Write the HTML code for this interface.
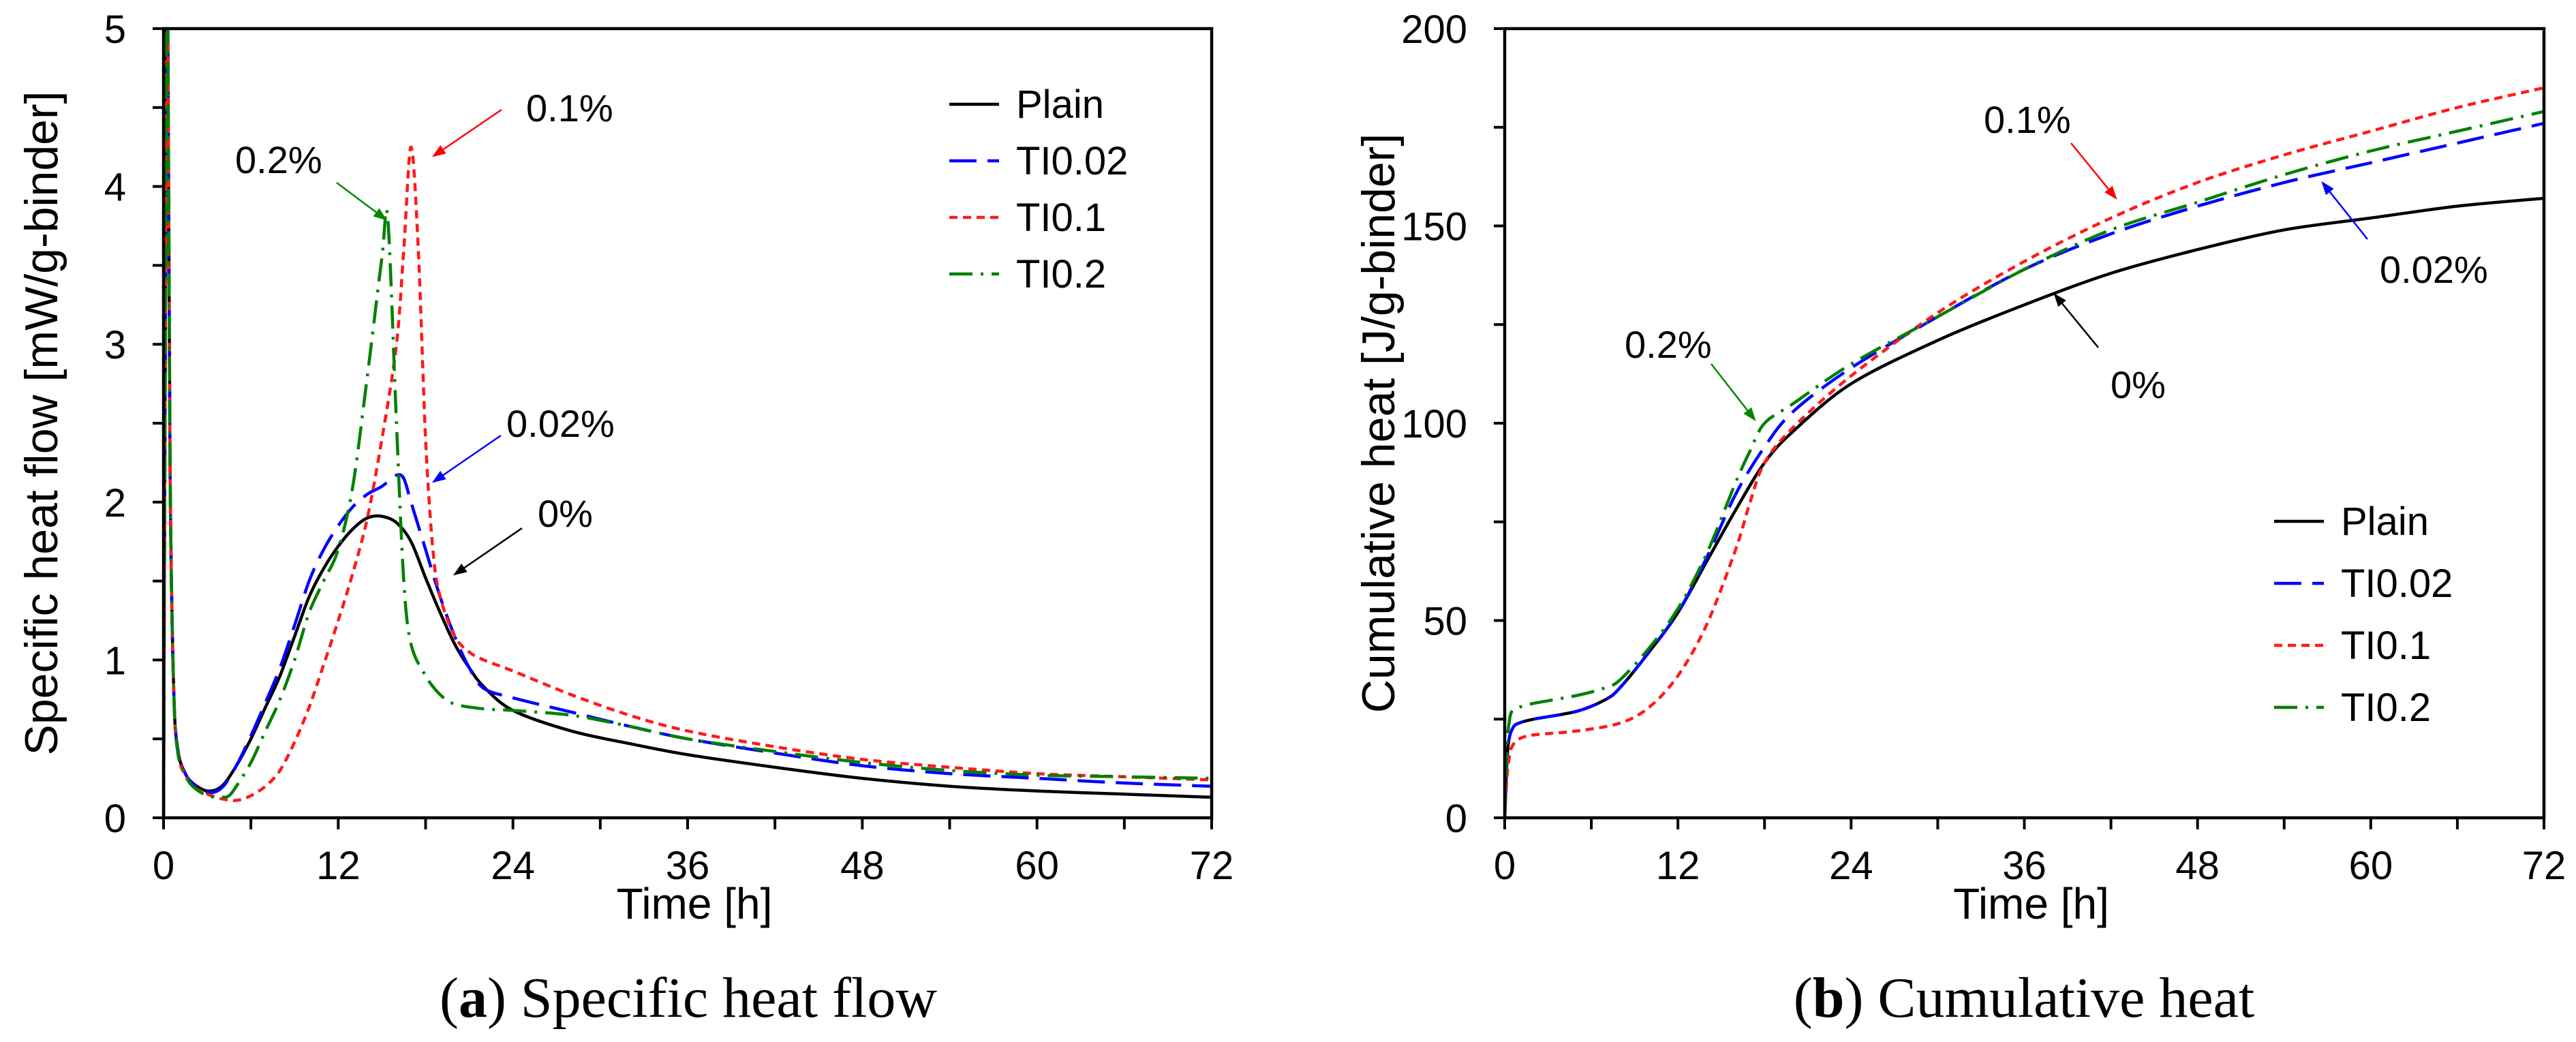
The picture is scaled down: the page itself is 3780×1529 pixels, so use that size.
<!DOCTYPE html>
<html><head><meta charset="utf-8"><style>
html,body{margin:0;padding:0;background:#fff;}
svg{display:block;}
text{font-family:"Liberation Sans",sans-serif;}
.cap{font-family:"Liberation Serif",serif;font-size:84px;}
</style></head><body>
<svg id="fig" width="3780" height="1529" viewBox="0 0 3780 1529" xmlns="http://www.w3.org/2000/svg">
<defs>
<clipPath id="clipA"><rect x="240" y="42" width="1538" height="1158"/></clipPath>
<clipPath id="clipB"><rect x="2208" y="42" width="1525" height="1158"/></clipPath>
<marker id="arrK" markerWidth="8" markerHeight="8" refX="7" refY="4" orient="auto" markerUnits="strokeWidth"><path d="M0,1 L8,4 L0,7 Z" fill="#000"/></marker>
<marker id="arrR" markerWidth="8" markerHeight="8" refX="7" refY="4" orient="auto" markerUnits="strokeWidth"><path d="M0,1 L8,4 L0,7 Z" fill="#f00"/></marker>
<marker id="arrB" markerWidth="8" markerHeight="8" refX="7" refY="4" orient="auto" markerUnits="strokeWidth"><path d="M0,1 L8,4 L0,7 Z" fill="#00f"/></marker>
<marker id="arrG" markerWidth="8" markerHeight="8" refX="7" refY="4" orient="auto" markerUnits="strokeWidth"><path d="M0,1 L8,4 L0,7 Z" fill="#080"/></marker>
</defs>
<g id="chartA"></g>
<g id="chartB"></g>

<text class="cap" x="1010" y="1492" text-anchor="middle">(<tspan font-weight="bold">a</tspan>) Specific heat flow</text>
<text class="cap" x="2970" y="1492" text-anchor="middle">(<tspan font-weight="bold">b</tspan>) Cumulative heat</text>
</svg>
<script>
// ---- Chart A data (Specific heat flow) ----
const plainT = [0,0.12,0.25,0.45,0.7,1,1.5,2,3,4,5,6,7,8,9,10,11,12,13,14,15,16,17,18,19,20,21,22,24,28,32,36,42,48,54,60,66,72];
const plainV = [0,3,5.6,2.2,0.8,0.42,0.28,0.22,0.17,0.2,0.33,0.5,0.7,0.9,1.15,1.4,1.58,1.72,1.83,1.9,1.91,1.87,1.75,1.52,1.3,1.1,0.95,0.83,0.68,0.55,0.47,0.4,0.32,0.25,0.2,0.17,0.15,0.13];
const ti002T = [0,0.12,0.25,0.45,0.7,1,1.5,2,3,4,5,6,7,8,9,10,11,12,13,14,15,16,16.5,17,18,19,20,21,22,24,28,32,36,42,48,54,60,66,72];
const ti002V = [0,3,5.6,2.2,0.8,0.42,0.28,0.22,0.16,0.19,0.33,0.52,0.73,0.95,1.22,1.5,1.7,1.85,1.97,2.05,2.1,2.17,2.15,2.0,1.7,1.4,1.15,0.95,0.82,0.76,0.67,0.58,0.5,0.41,0.33,0.28,0.25,0.22,0.2];
const ti01T = [0,0.12,0.25,0.45,0.7,1,1.5,2,3,4,5,6,7,8,9,10,11,12,13,14,15,16,16.5,17,17.5,18,18.5,19,20,21,22,24,28,32,36,42,48,54,60,66,72];
const ti01V = [0,3,5.6,2.2,0.8,0.4,0.27,0.2,0.15,0.12,0.11,0.14,0.2,0.3,0.48,0.7,0.97,1.25,1.55,1.9,2.4,3.0,3.6,4.25,3.6,2.4,1.7,1.4,1.15,1.05,1.0,0.93,0.78,0.65,0.55,0.45,0.37,0.32,0.28,0.26,0.24];
const ti02T = [0,0.12,0.25,0.45,0.7,1,1.5,2,3,4,4.5,5,6,7,8,9,10,11,12,13,14,15,15.4,16,16.5,17,18,19,20,22,24,28,32,36,42,48,54,60,66,72];
const ti02V = [0,3,5.6,2.2,0.8,0.4,0.27,0.2,0.14,0.13,0.14,0.2,0.35,0.55,0.75,1.0,1.3,1.5,1.7,2.1,2.8,3.55,3.8,2.5,1.5,1.1,0.9,0.78,0.72,0.69,0.68,0.65,0.58,0.5,0.42,0.35,0.3,0.27,0.26,0.25];
const xTicksA = [0,12,24,36,48,60,72];
const yTicksA = [0,1,2,3,4,5];

// ---- Chart B data (Cumulative heat) ----
const cPlainT = [0,0.15,0.3,0.6,1,2,5,7,8,10,12,14,16,18,20,24,30,36,42,48,54,60,66,72];
const cPlainV = [0,14,20,23,24,25,27,30,33,42,52,65,78,90,98,110,121,130,138,144,149,152,155,157];
const c002T = [0,0.15,0.3,0.6,1,2,5,7,8,10,12,14,16,18,20,24,30,36,42,48,54,60,66,72];
const c002V = [0,14,20,23,24,25,27,30,33,42,52,66,82,94,103,114,127,139,148,155,161,166,171,176];
const c01T = [0,0.15,0.3,0.5,1,2,5,8,10,12,14,16,17,18,20,24,30,36,42,48,54,60,66,72];
const c01V = [0,10,15,18,20,21,22,24,28,36,49,68,80,90,99,112,128,141,152,161,168,174,180,185];
const c02T = [0,0.15,0.3,0.5,1,2,5,7,8,10,12,14,16,17,18,20,24,30,36,42,48,54,60,66,72];
const c02V = [0,18,24,27,28,29,31,33,35,43,53,67,85,93,100,105,115,127,139,149,156,163,169,174,179];
const xTicksB = [0,12,24,36,48,60,72];
const yTicksB = [0,50,100,150,200];

const NS = "http://www.w3.org/2000/svg";
function mk(tag, attrs, parent){const e=document.createElementNS(NS,tag);for(const k in attrs)e.setAttribute(k,attrs[k]);parent.appendChild(e);return e;}

function smoothPath(pts){
  let d = "M"+pts[0][0].toFixed(1)+","+pts[0][1].toFixed(1);
  for(let i=0;i<pts.length-1;i++){
    const p0=pts[Math.max(0,i-1)],p1=pts[i],p2=pts[i+1],p3=pts[Math.min(pts.length-1,i+2)];
    const t=0.16;
    const c1=[p1[0]+(p2[0]-p0[0])*t,p1[1]+(p2[1]-p0[1])*t];
    const c2=[p2[0]-(p3[0]-p1[0])*t,p2[1]-(p3[1]-p1[1])*t];
    d+=" C"+c1[0].toFixed(1)+","+c1[1].toFixed(1)+" "+c2[0].toFixed(1)+","+c2[1].toFixed(1)+" "+p2[0].toFixed(1)+","+p2[1].toFixed(1);
  }
  return d;
}

function drawChart(cfg){
  const g=document.getElementById(cfg.id);
  const X=v=>cfg.x0+(v-cfg.xmin)/(cfg.xmax-cfg.xmin)*(cfg.x1-cfg.x0);
  const Y=v=>cfg.y0-(v-cfg.ymin)/(cfg.ymax-cfg.ymin)*(cfg.y0-cfg.y1);
  const sg=mk("g",{"clip-path":"url(#"+cfg.clip+")"},g);
  
  
  cfg.series.forEach(s=>{
    const pts=s.t.map((t,i)=>[X(t),Y(s.v[i])]);
    const p=mk("path",{d:smoothPath(pts),fill:"none",stroke:s.color,"stroke-width":4.5,"stroke-dasharray":s.dash,"stroke-linejoin":"round"},sg);
    
    
  });
  const fr=mk("rect",{x:cfg.x0,y:cfg.y1,width:cfg.x1-cfg.x0,height:cfg.y0-cfg.y1,fill:"none",stroke:"#000","stroke-width":4.5},g);
  
  
  for(let v=cfg.xmin;v<=cfg.xmax;v+=6){
    const tk=mk("line",{x1:X(v),x2:X(v),y1:cfg.y0,y2:cfg.y0+17,stroke:"#000","stroke-width":4},g);
    
    
  }
  cfg.xticks.forEach(v=>{
    const t=mk("text",{x:X(v),y:cfg.y0+90,"text-anchor":"middle","font-size":58},g);
    t.textContent=v;
    
    
  });
  const step=cfg.yticks[1]-cfg.yticks[0];
  for(let v=cfg.ymin;v<=cfg.ymax+1e-9;v+=step/2){
    const tk=mk("line",{x1:cfg.x0-16,x2:cfg.x0,y1:Y(v),y2:Y(v),stroke:"#000","stroke-width":4},g);
    
    
  }
  cfg.yticks.forEach(v=>{
    const t=mk("text",{x:cfg.x0-55,y:Y(v)+21,"text-anchor":"end","font-size":58},g);
    t.textContent=v;
    
    
  });
  const xt=mk("text",{x:(cfg.x0+cfg.x1)/2+10,y:cfg.y0+148,"text-anchor":"middle","font-size":64},g);
  xt.textContent="Time [h]";
  
  
  const yt=mk("text",{x:0,y:0,"text-anchor":"middle","font-size":68,transform:"translate("+cfg.ytx+","+((cfg.y0+cfg.y1)/2)+") rotate(-90)"},g);
  yt.textContent=cfg.ytitle;
  
  
  cfg.series.forEach((s,i)=>{
    const y=cfg.legY+i*cfg.legDy;
    const l=mk("line",{x1:cfg.legX,x2:cfg.legX+73,y1:y,y2:y,stroke:s.color,"stroke-width":4.5,"stroke-dasharray":s.dash},g);
    
    
    const t=mk("text",{x:cfg.legX+98,y:y+20,"font-size":58},g);
    t.textContent=s.label;
    
    
  });
  cfg.notes.forEach(n=>{
    const t=mk("text",{x:n.tx,y:n.ty+20,"font-size":56},g);
    t.textContent=n.text;
    
    
    const a=mk("line",{x1:n.a[0],y1:n.a[1],x2:n.a[2],y2:n.a[3],stroke:n.color,"stroke-width":2.5,"marker-end":"url(#"+n.m+")"},g);
    
    
  });
}

const dashBlue="40 16", dashRed="12 8", dashGreen="34 12 4 12";
drawChart({id:"chartA",clip:"clipA",x0:240,x1:1778,y0:1200,y1:42,xmin:0,xmax:72,ymin:0,ymax:5,
  xticks:xTicksA,yticks:yTicksA,ytx:84,ytitle:"Specific heat flow [mW/g-binder]",
  legX:1393,legY:153,legDy:83,
  series:[
    {name:"plain-line",label:"Plain",t:plainT,v:plainV,color:"#000",dash:"none"},
    {name:"ti002-line",label:"TI0.02",t:ti002T,v:ti002V,color:"#0000ff",dash:dashBlue},
    {name:"ti01-line",label:"TI0.1",t:ti01T,v:ti01V,color:"#ff1a1a",dash:dashRed},
    {name:"ti02-line",label:"TI0.2",t:ti02T,v:ti02V,color:"#008000",dash:dashGreen}],
  notes:[
    {text:"0.1%",tx:772,ty:158,a:[736,161,636,229],color:"#f00",m:"arrR"},
    {text:"0.2%",tx:345,ty:234,a:[494,268,566,322],color:"#080",m:"arrG"},
    {text:"0.02%",tx:743,ty:621,a:[735,639,636,707],color:"#00f",m:"arrB"},
    {text:"0%",tx:789,ty:753,a:[766,775,667,843],color:"#000",m:"arrK"}]
});
drawChart({id:"chartB",clip:"clipB",x0:2208,x1:3733,y0:1200,y1:42,xmin:0,xmax:72,ymin:0,ymax:200,
  xticks:xTicksB,yticks:yTicksB,ytx:2046,ytitle:"Cumulative heat [J/g-binder]",
  legX:3337,legY:765,legDy:91,
  series:[
    {name:"plain-line",label:"Plain",t:cPlainT,v:cPlainV,color:"#000",dash:"none"},
    {name:"ti002-line",label:"TI0.02",t:c002T,v:c002V,color:"#0000ff",dash:dashBlue},
    {name:"ti01-line",label:"TI0.1",t:c01T,v:c01V,color:"#ff1a1a",dash:dashRed},
    {name:"ti02-line",label:"TI0.2",t:c02T,v:c02V,color:"#008000",dash:dashGreen}],
  notes:[
    {text:"0.1%",tx:2911,ty:175,a:[3039,210,3105,291],color:"#f00",m:"arrR"},
    {text:"0.02%",tx:3492,ty:395,a:[3474,351,3408,268],color:"#00f",m:"arrB"},
    {text:"0%",tx:3097,ty:564,a:[3079,510,3015,432],color:"#000",m:"arrK"},
    {text:"0.2%",tx:2384,ty:505,a:[2511,534,2575,616],color:"#080",m:"arrG"}]
});
</script>
</body></html>
